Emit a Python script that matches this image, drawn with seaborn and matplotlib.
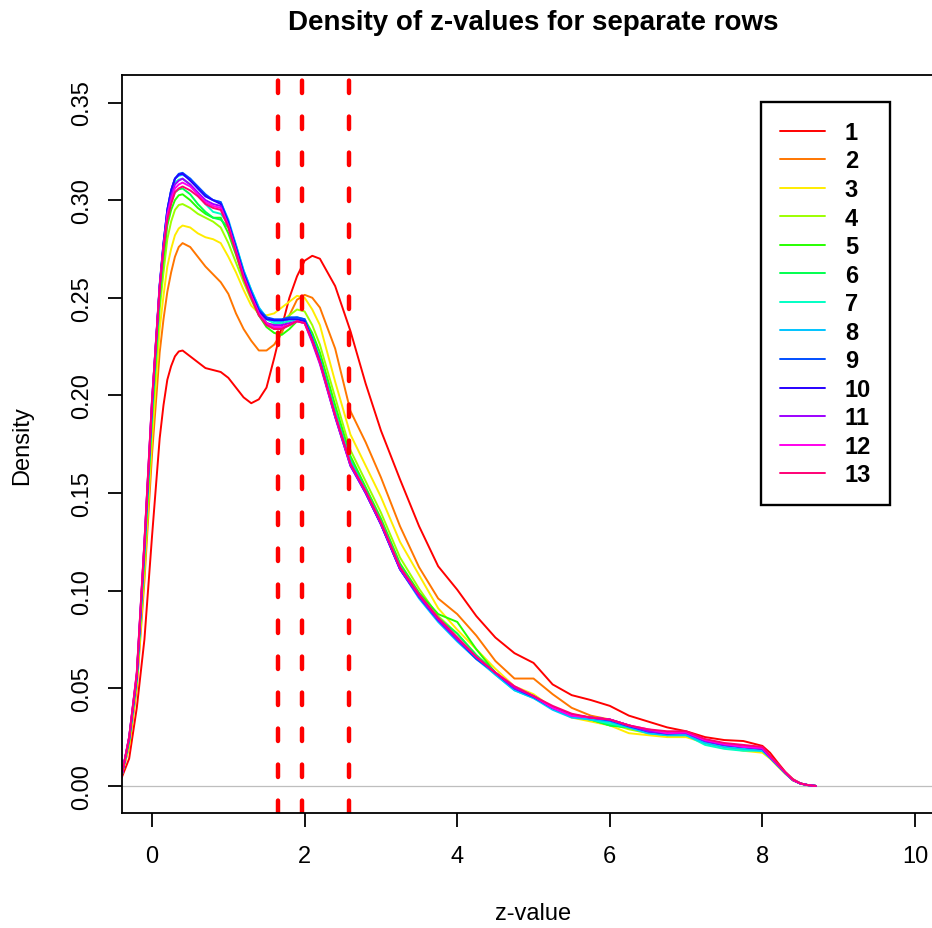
import numpy as np
import pandas as pd
import seaborn as sns
import matplotlib.pyplot as plt

z_grid = [-0.4, -0.3, -0.2, -0.1, 0.0, 0.1, 0.15, 0.2, 0.25, 0.3, 0.35, 0.4, 0.5, 0.6, 0.7, 0.8, 0.9,
          1.0, 1.1, 1.2, 1.3, 1.4, 1.5, 1.6, 1.7, 1.8, 1.9, 2.0, 2.1, 2.2, 2.4, 2.6,
          2.8, 3.0, 3.25, 3.5, 3.75, 4.0, 4.25, 4.5, 4.75, 5.0, 5.25, 5.5, 5.75, 6.0,
          6.25, 6.5, 6.75, 7.0, 7.25, 7.5, 7.75, 8.0, 8.1, 8.2, 8.3, 8.4, 8.5, 8.6, 8.7]

row_1 = [0.004, 0.014, 0.040, 0.075, 0.128, 0.178, 0.195, 0.208, 0.215, 0.220, 0.2225, 0.223, 0.220, 0.217, 0.214, 0.213, 0.212,
         0.209, 0.204, 0.199, 0.196, 0.198, 0.204, 0.219, 0.235, 0.250, 0.261, 0.269, 0.2715, 0.270, 0.256, 0.233,
         0.206, 0.182, 0.157, 0.133, 0.1125, 0.1005, 0.087, 0.076, 0.068, 0.063, 0.052, 0.0465, 0.044, 0.041,
         0.036, 0.033, 0.030, 0.028, 0.025, 0.0235, 0.023, 0.0205, 0.017, 0.012, 0.0072, 0.0035, 0.0013, 0.0004, 0.0]
row_2 = [0.005, 0.020, 0.050, 0.105, 0.170, 0.222, 0.239, 0.253, 0.263, 0.271, 0.276, 0.278, 0.276, 0.271, 0.266, 0.262, 0.258,
         0.252, 0.242, 0.234, 0.228, 0.223, 0.223, 0.226, 0.232, 0.241, 0.249, 0.2515, 0.250, 0.245, 0.224, 0.192,
         0.176, 0.158, 0.133, 0.112, 0.096, 0.088, 0.077, 0.064, 0.055, 0.055, 0.047, 0.040, 0.036, 0.034,
         0.031, 0.028, 0.027, 0.027, 0.023, 0.021, 0.020, 0.019, 0.015, 0.011, 0.0068, 0.003, 0.0012, 0.0004, 0.0]
row_3 = [0.005, 0.021, 0.052, 0.110, 0.178, 0.234, 0.251, 0.266, 0.275, 0.282, 0.2855, 0.287, 0.286, 0.283, 0.281, 0.280, 0.278,
         0.271, 0.263, 0.254, 0.246, 0.242, 0.241, 0.242, 0.245, 0.248, 0.251, 0.250, 0.244, 0.236, 0.207, 0.180,
         0.164, 0.148, 0.125, 0.108, 0.091, 0.080, 0.070, 0.060, 0.051, 0.047, 0.040, 0.035, 0.033, 0.031,
         0.027, 0.026, 0.025, 0.025, 0.022, 0.020, 0.018, 0.017, 0.014, 0.010, 0.0062, 0.0028, 0.0011, 0.0004, 0.0]
row_4 = [0.005, 0.022, 0.054, 0.115, 0.185, 0.244, 0.263, 0.280, 0.289, 0.295, 0.2975, 0.298, 0.296, 0.293, 0.291, 0.289, 0.286,
         0.278, 0.268, 0.258, 0.249, 0.241, 0.237, 0.236, 0.238, 0.241, 0.244, 0.243, 0.236, 0.226, 0.199, 0.172,
         0.156, 0.140, 0.117, 0.101, 0.087, 0.078, 0.067, 0.058, 0.050, 0.046, 0.040, 0.036, 0.034, 0.032,
         0.029, 0.027, 0.026, 0.026, 0.023, 0.021, 0.019, 0.018, 0.0145, 0.0105, 0.0065, 0.003, 0.0012, 0.0004, 0.0]
row_5 = [0.005, 0.023, 0.055, 0.118, 0.190, 0.250, 0.270, 0.287, 0.295, 0.300, 0.3025, 0.303, 0.300, 0.296, 0.293, 0.291, 0.291,
         0.283, 0.272, 0.260, 0.250, 0.241, 0.235, 0.232, 0.231, 0.234, 0.238, 0.239, 0.232, 0.222, 0.195, 0.169,
         0.153, 0.137, 0.114, 0.099, 0.088, 0.084, 0.070, 0.058, 0.050, 0.046, 0.040, 0.036, 0.034, 0.031,
         0.030, 0.028, 0.026, 0.026, 0.023, 0.021, 0.020, 0.019, 0.015, 0.011, 0.0066, 0.003, 0.0012, 0.0004, 0.0]
row_6 = [0.005, 0.024, 0.055, 0.120, 0.192, 0.253, 0.274, 0.291, 0.299, 0.304, 0.3055, 0.306, 0.303, 0.298, 0.294, 0.291, 0.290,
         0.286, 0.275, 0.262, 0.252, 0.243, 0.237, 0.234, 0.234, 0.236, 0.238, 0.238, 0.230, 0.219, 0.192, 0.167,
         0.152, 0.136, 0.113, 0.098, 0.086, 0.078, 0.067, 0.058, 0.050, 0.046, 0.040, 0.036, 0.034, 0.031,
         0.030, 0.028, 0.026, 0.027, 0.022, 0.020, 0.019, 0.018, 0.0145, 0.0105, 0.0065, 0.003, 0.0012, 0.0004, 0.0]
row_7 = [0.005, 0.024, 0.056, 0.121, 0.194, 0.255, 0.276, 0.294, 0.303, 0.309, 0.3105, 0.311, 0.308, 0.303, 0.298, 0.294, 0.293,
         0.288, 0.277, 0.264, 0.254, 0.245, 0.239, 0.237, 0.237, 0.238, 0.239, 0.238, 0.229, 0.218, 0.191, 0.166,
         0.151, 0.135, 0.112, 0.097, 0.085, 0.075, 0.066, 0.057, 0.049, 0.045, 0.040, 0.036, 0.034, 0.032,
         0.030, 0.027, 0.026, 0.026, 0.021, 0.019, 0.018, 0.018, 0.0145, 0.0105, 0.0065, 0.003, 0.0012, 0.0004, 0.0]
row_8 = [0.005, 0.024, 0.056, 0.122, 0.195, 0.256, 0.277, 0.295, 0.305, 0.311, 0.3125, 0.313, 0.311, 0.306, 0.302, 0.300, 0.299,
         0.290, 0.277, 0.264, 0.254, 0.245, 0.240, 0.238, 0.238, 0.239, 0.240, 0.239, 0.229, 0.218, 0.190, 0.166,
         0.151, 0.134, 0.111, 0.096, 0.084, 0.074, 0.065, 0.057, 0.049, 0.045, 0.039, 0.035, 0.034, 0.033,
         0.030, 0.027, 0.026, 0.026, 0.022, 0.020, 0.019, 0.018, 0.0145, 0.0105, 0.0065, 0.003, 0.0012, 0.0004, 0.0]
row_9 = [0.005, 0.024, 0.056, 0.122, 0.195, 0.256, 0.278, 0.295, 0.305, 0.311, 0.3135, 0.314, 0.311, 0.307, 0.303, 0.300, 0.299,
         0.289, 0.276, 0.263, 0.253, 0.244, 0.240, 0.239, 0.239, 0.240, 0.240, 0.239, 0.229, 0.218, 0.190, 0.165,
         0.150, 0.134, 0.111, 0.097, 0.085, 0.075, 0.065, 0.058, 0.050, 0.0455, 0.040, 0.0365, 0.035, 0.0335,
         0.0305, 0.028, 0.0267, 0.0273, 0.023, 0.021, 0.020, 0.019, 0.0147, 0.0108, 0.0068, 0.003, 0.0012, 0.0004, 0.0]
row_10 = [0.005, 0.025, 0.057, 0.124, 0.197, 0.257, 0.278, 0.295, 0.305, 0.311, 0.313, 0.3135, 0.310, 0.306, 0.302, 0.300, 0.298,
          0.288, 0.275, 0.262, 0.252, 0.243, 0.239, 0.2385, 0.2385, 0.239, 0.239, 0.238, 0.228, 0.217, 0.189, 0.164,
          0.150, 0.134, 0.111, 0.097, 0.085, 0.075, 0.066, 0.058, 0.050, 0.046, 0.040, 0.0365, 0.035, 0.034,
          0.031, 0.028, 0.027, 0.0275, 0.0232, 0.021, 0.020, 0.0192, 0.0148, 0.0108, 0.0068, 0.003, 0.0012, 0.0004, 0.0]
row_11 = [0.005, 0.025, 0.057, 0.124, 0.197, 0.256, 0.276, 0.293, 0.302, 0.308, 0.310, 0.311, 0.308, 0.304, 0.300, 0.298, 0.297,
          0.287, 0.274, 0.261, 0.251, 0.242, 0.237, 0.236, 0.236, 0.237, 0.238, 0.237, 0.227, 0.216, 0.189, 0.164,
          0.150, 0.134, 0.111, 0.097, 0.085, 0.075, 0.066, 0.058, 0.050, 0.046, 0.040, 0.036, 0.035, 0.034,
          0.031, 0.028, 0.027, 0.027, 0.023, 0.021, 0.020, 0.019, 0.0147, 0.0108, 0.0068, 0.003, 0.0012, 0.0004, 0.0]
row_12 = [0.005, 0.025, 0.058, 0.125, 0.198, 0.256, 0.276, 0.292, 0.300, 0.306, 0.308, 0.309, 0.307, 0.303, 0.299, 0.297, 0.296,
          0.287, 0.274, 0.261, 0.251, 0.242, 0.237, 0.235, 0.235, 0.236, 0.238, 0.237, 0.228, 0.217, 0.190, 0.165,
          0.151, 0.135, 0.112, 0.098, 0.086, 0.076, 0.066, 0.058, 0.051, 0.046, 0.040, 0.036, 0.035, 0.034,
          0.031, 0.029, 0.027, 0.0275, 0.0235, 0.0215, 0.020, 0.0195, 0.015, 0.011, 0.0068, 0.003, 0.0012, 0.0004, 0.0]
row_13 = [0.005, 0.025, 0.058, 0.125, 0.198, 0.255, 0.275, 0.290, 0.298, 0.304, 0.306, 0.307, 0.305, 0.302, 0.298, 0.296, 0.295,
          0.286, 0.273, 0.260, 0.250, 0.241, 0.236, 0.234, 0.234, 0.236, 0.238, 0.237, 0.228, 0.217, 0.190, 0.165,
          0.151, 0.135, 0.112, 0.098, 0.086, 0.076, 0.066, 0.058, 0.051, 0.046, 0.041, 0.037, 0.035, 0.034,
          0.031, 0.029, 0.028, 0.028, 0.024, 0.022, 0.021, 0.020, 0.0155, 0.0112, 0.007, 0.0032, 0.0013, 0.0004, 0.0]

row_labels = ["1", "2", "3", "4", "5", "6", "7", "8", "9", "10", "11", "12", "13"]
# R rainbow(13)
row_colors = ["#FF0000", "#FF7600", "#FFEC00", "#9DFF00", "#27FF00", "#00FF4E", "#00FFC4",
              "#00C4FF", "#004EFF", "#2700FF", "#9D00FF", "#FF00EC", "#FF0076"]
z_cuts = [1.645, 1.96, 2.576]
x_ticks = [0, 2, 4, 6, 8, 10]
y_ticks = [0.00, 0.05, 0.10, 0.15, 0.20, 0.25, 0.30, 0.35]
y_tick_labels = ["0.00", "0.05", "0.10", "0.15", "0.20", "0.25", "0.30", "0.35"]

rows = [row_1, row_2, row_3, row_4, row_5, row_6, row_7, row_8, row_9, row_10, row_11, row_12, row_13]
df = pd.concat([pd.DataFrame({"z": z_grid, "density": r, "row": lab})
                for lab, r in zip(row_labels, rows)], ignore_index=True)

sns.set_theme(style="ticks")
plt.rcParams["font.family"] = ["Liberation Sans", "DejaVu Sans"]
plt.rcParams["text.color"] = "black"
plt.rcParams["axes.labelcolor"] = "black"

fig = plt.figure(figsize=(9.32, 9.29), dpi=100)
ax = fig.add_axes([0.1304, 0.1235, 0.8841, 0.7945])

sns.lineplot(data=df, x="z", y="density", hue="row", hue_order=row_labels,
             palette=row_colors, sort=False, estimator=None, linewidth=1.4,
             legend=False, ax=ax)
curve_lines = list(ax.get_lines())
for ln in curve_lines:
    ln.set_solid_joinstyle("round")

ax.axhline(0, color="#BEBEBE", lw=0.9, zorder=0)
for z in z_cuts:
    ax.axvline(z, color="red", lw=3.2, linestyle=(0, (2.8, 5.3)),
               dash_capstyle="round")

ax.set_xlim(-0.4, 10.4)
ax.set_ylim(-0.014, 0.364)
ax.set_xticks(x_ticks)
ax.set_yticks(y_ticks)
ax.set_yticklabels(y_tick_labels, rotation=90, va="center")
ax.tick_params(direction="out", length=10, width=1.3, labelsize=17,
               colors="black", labelcolor="black")
ax.tick_params(axis="x", pad=13)
ax.tick_params(axis="y", pad=10.4)
for sp in ax.spines.values():
    sp.set_visible(True)
    sp.set_color("black")
    sp.set_linewidth(1.3)

ax.set_xlabel("z-value", fontsize=17, va="center", color="black")
ax.xaxis.set_label_coords(0.5, -(913 - 814) / 736)
ax.set_ylabel("Density", fontsize=17, va="center", color="black")
ax.yaxis.set_label_coords((22 - 121.5) / 824, 0.5)
ax.set_title("Density of z-values for separate rows", fontsize=20,
             fontweight="bold", pad=33, color="black")

leg = ax.legend(curve_lines, row_labels, loc="upper left",
                bbox_to_anchor=(761 / 932, 1 - 103 / 929), bbox_transform=fig.transFigure,
                frameon=True, fancybox=False, edgecolor="black", framealpha=1,
                prop={"weight": "bold", "size": 17}, handlelength=1.9,
                handletextpad=0.85, labelspacing=0.235, borderpad=0.8, borderaxespad=0)
leg.get_frame().set_linewidth(1.7)
for t in leg.get_texts():
    t.set_color("black")

fig.savefig("out.png", dpi=100)
